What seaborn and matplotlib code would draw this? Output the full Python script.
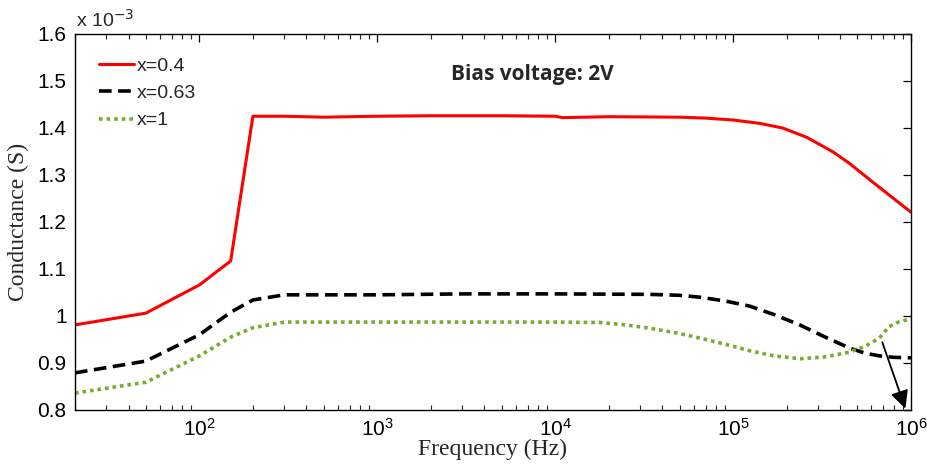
import numpy as np
import pandas as pd
import matplotlib
matplotlib.use("Agg")
import matplotlib.pyplot as plt
import seaborn as sns
from matplotlib.ticker import FuncFormatter, LogLocator, NullFormatter, MultipleLocator

# ---- data (conductance in units of 1e-3 S) ----
freq_red = [20, 50, 100, 150, 200, 300, 500, 1e3, 2e3, 5e3, 1e4, 1.1e4, 2e4, 5e4,
            7e4, 1e5, 1.4e5, 1.9e5, 2.6e5, 3.65e5, 4.5e5, 5.6e5, 7.5e5, 1e6]
g_red = [0.981, 1.006, 1.066, 1.117, 1.425, 1.425, 1.423, 1.425, 1.426, 1.426, 1.425,
         1.422, 1.424, 1.423, 1.421, 1.417, 1.410, 1.400, 1.380, 1.349, 1.325, 1.296,
         1.258, 1.221]

freq_black = [20, 50, 100, 150, 200, 300, 500, 1e3, 3e3, 1e4, 3.4e4, 5e4, 6.5e4, 9e4,
              1.24e5, 1.7e5, 2.37e5, 3.3e5, 4.5e5, 5.5e5, 6.65e5, 8e5, 1e6]
g_black = [0.879, 0.904, 0.960, 1.008, 1.034, 1.045, 1.045, 1.045, 1.047, 1.047, 1.046,
           1.044, 1.040, 1.032, 1.021, 1.003, 0.981, 0.955, 0.932, 0.921, 0.915, 0.912,
           0.911]

freq_green = [20, 50, 100, 150, 200, 300, 500, 1e3, 3e3, 1e4, 1.8e4, 2.5e4, 3.4e4,
              4.8e4, 6.5e4, 9e4, 1.24e5, 1.7e5, 2.4e5, 3.3e5, 4.5e5, 5.5e5, 6.65e5,
              7.5e5, 8.5e5, 1e6]
g_green = [0.836, 0.859, 0.915, 0.955, 0.975, 0.987, 0.987, 0.987, 0.987, 0.987, 0.986,
           0.981, 0.974, 0.964, 0.953, 0.940, 0.926, 0.915, 0.909, 0.913, 0.923, 0.935,
           0.953, 0.977, 0.987, 0.994]

labels = ["x=0.4", "x=0.63", "x=1"]
colors = ["#ff0000", "#000000", "#77ac30"]

sns.set_theme(style="white")
plt.rcParams["font.family"] = ["Liberation Sans", "DejaVu Sans"]

fig = plt.figure(figsize=(9.27, 4.70), dpi=100)
ax = fig.add_axes([0.0809, 0.1277, 0.9018, 0.8000])

sns.lineplot(x=freq_red, y=g_red, ax=ax, color=colors[0], lw=2.2, label=labels[0])
sns.lineplot(x=freq_black, y=g_black, ax=ax, color=colors[1], lw=2.6, label=labels[1])
sns.lineplot(x=freq_green, y=g_green, ax=ax, color=colors[2], lw=2.6, label=labels[2])
lines = ax.get_lines()
lines[1].set_dashes([3.5, 1.8])
lines[2].set_dashes([1.0, 1.1])

ax.set_xscale("log")
ax.set_xlim(20, 1e6)
ax.set_ylim(0.8, 1.6)
ax.yaxis.set_major_locator(MultipleLocator(0.1))
ax.yaxis.set_major_formatter(FuncFormatter(lambda v, p: f"{v:g}"))
ax.xaxis.set_major_locator(LogLocator(base=10, numticks=10))
ax.xaxis.set_minor_locator(LogLocator(base=10, subs=np.arange(2, 10), numticks=20))
ax.xaxis.set_minor_formatter(NullFormatter())

ax.tick_params(axis="both", which="major", direction="in", length=6, width=0.9,
               top=True, right=True, labelsize=15, colors="black", pad=6)
ax.tick_params(axis="x", which="minor", direction="in", length=3.5, width=0.8,
               top=True, bottom=True)
for s in ax.spines.values():
    s.set_color("black")
    s.set_linewidth(1.0)

ax.set_xlabel("Frequency (Hz)", fontfamily="Liberation Serif", fontsize=17, labelpad=-1)
ax.set_ylabel("Conductance (S)", fontfamily="Liberation Serif", fontsize=17, labelpad=6)

fig.text(0.082, 0.935, r"x 10$^{-3}$", fontsize=14, ha="left", va="bottom")

ax.text(2.6e3, 1.513, "Bias voltage: 2V", fontfamily="Open Sans", fontweight="bold",
        fontsize=15, ha="left", va="center")

ax.annotate("", xy=(9.3e5, 0.803), xytext=(6.9e5, 0.944),
            arrowprops=dict(arrowstyle="-|>,head_length=0.9,head_width=0.45",
                            color="black", lw=1.3, shrinkA=0, shrinkB=0))

leg = ax.legend(loc="upper left", frameon=False, fontsize=14, handlelength=1.8,
                handletextpad=0.15, borderaxespad=0.5, labelspacing=0.5,
                bbox_to_anchor=(0.008, 0.985))

fig.savefig("out.png", dpi=100)
